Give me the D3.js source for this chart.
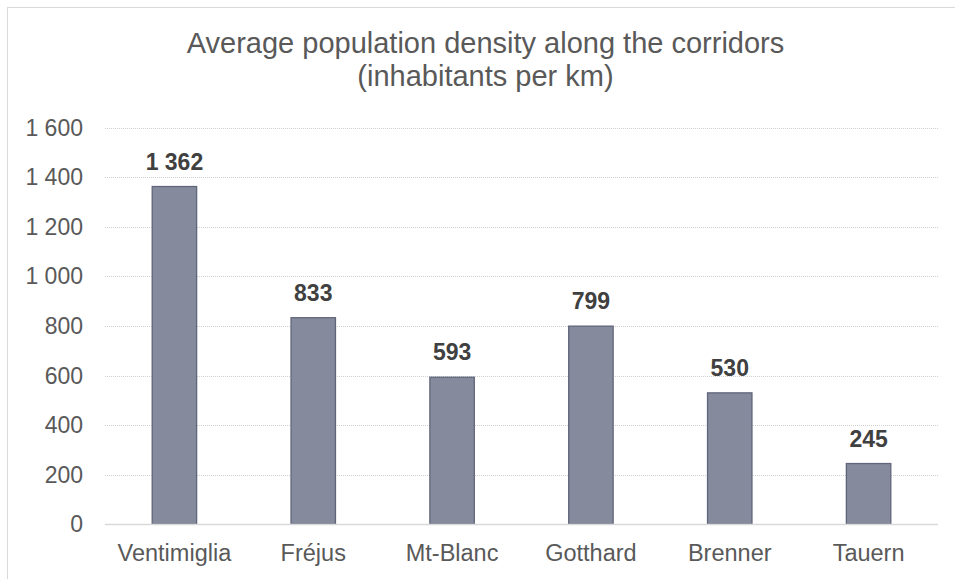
<!DOCTYPE html>
<html><head><meta charset="utf-8">
<script src="https://cdn.jsdelivr.net/npm/d3@7"></script>
<style>
html,body{margin:0;padding:0;background:#fff;}
svg{display:block;font-family:"Liberation Sans",Arial,sans-serif;}
</style></head>
<body>
<svg id="chart" width="955" height="579"></svg>
<script>
const categories = ["Ventimiglia","Fréjus","Mt-Blanc","Gotthard","Brenner","Tauern"];
const values = [1362, 833, 593, 799, 530, 245];
const valueLabels = ["1 362","833","593","799","530","245"];
const yTicks = [0,200,400,600,800,1000,1200,1400,1600];
const yTickLabels = ["0","200","400","600","800","1 000","1 200","1 400","1 600"];
const titleLines = ["Average population density along the corridors","(inhabitants per km)"];

(function(){
const svg = d3.select("#chart");
const pL = 105, pR = 938, pT = 127.5, pB = 524.3;

svg.append("rect").attr("x",7.5).attr("y",7.5).attr("width",970).attr("height",620)
  .attr("fill","#fff").attr("stroke","#d9d9d9").attr("stroke-width",1);

const x = d3.scaleBand().domain(categories).range([pL,pR]).paddingInner(0).paddingOuter(0);
const y = d3.scaleLinear().domain([0,1600]).range([pB,pT]);

// gridlines
svg.append("g").selectAll("line").data(yTicks.filter(d=>d>0)).join("line")
  .attr("x1",pL).attr("x2",pR)
  .attr("y1",d=>Math.round(y(d))+0.5).attr("y2",d=>Math.round(y(d))+0.5)
  .attr("stroke","#d0d0d0").attr("stroke-width",1).attr("stroke-dasharray","1,1");

// y tick labels
svg.append("g").selectAll("text").data(yTicks).join("text")
  .attr("x",83).attr("y",d=>y(d)).attr("dy","0.35em")
  .attr("text-anchor","end").attr("font-size",23).attr("fill","#595959")
  .text((d,i)=>yTickLabels[i]);

// bars
const bw = x.bandwidth()*0.32;
svg.append("g").selectAll("rect").data(values).join("rect")
  .attr("x",(d,i)=>x(categories[i])+x.bandwidth()/2-bw/2)
  .attr("y",d=>y(d))
  .attr("width",bw).attr("height",d=>y(0)-y(d))
  .attr("fill","#858a9c").attr("stroke","#60657a").attr("stroke-width",1.3);

// axis baseline
svg.append("line").attr("x1",pL).attr("x2",pR)
  .attr("y1",Math.round(y(0))+0.5).attr("y2",Math.round(y(0))+0.5)
  .attr("stroke","#d9d9d9").attr("stroke-width",1.5);

// value labels
svg.append("g").selectAll("text").data(values).join("text")
  .attr("x",(d,i)=>x(categories[i])+x.bandwidth()/2)
  .attr("y",d=>y(d)-17)
  .attr("text-anchor","middle").attr("font-size",23).attr("font-weight","bold").attr("fill","#404040")
  .text((d,i)=>valueLabels[i]);

// category labels
svg.append("g").selectAll("text").data(categories).join("text")
  .attr("x",d=>x(d)+x.bandwidth()/2).attr("y",561)
  .attr("text-anchor","middle").attr("font-size",23.5).attr("fill","#595959")
  .text(d=>d);

// title
svg.append("g").selectAll("text").data(titleLines).join("text")
  .attr("x",485.5).attr("y",(d,i)=>53.3+i*33)
  .attr("text-anchor","middle").attr("font-size",29).attr("fill","#595959")
  .text(d=>d);
})();
</script>
</body></html>
